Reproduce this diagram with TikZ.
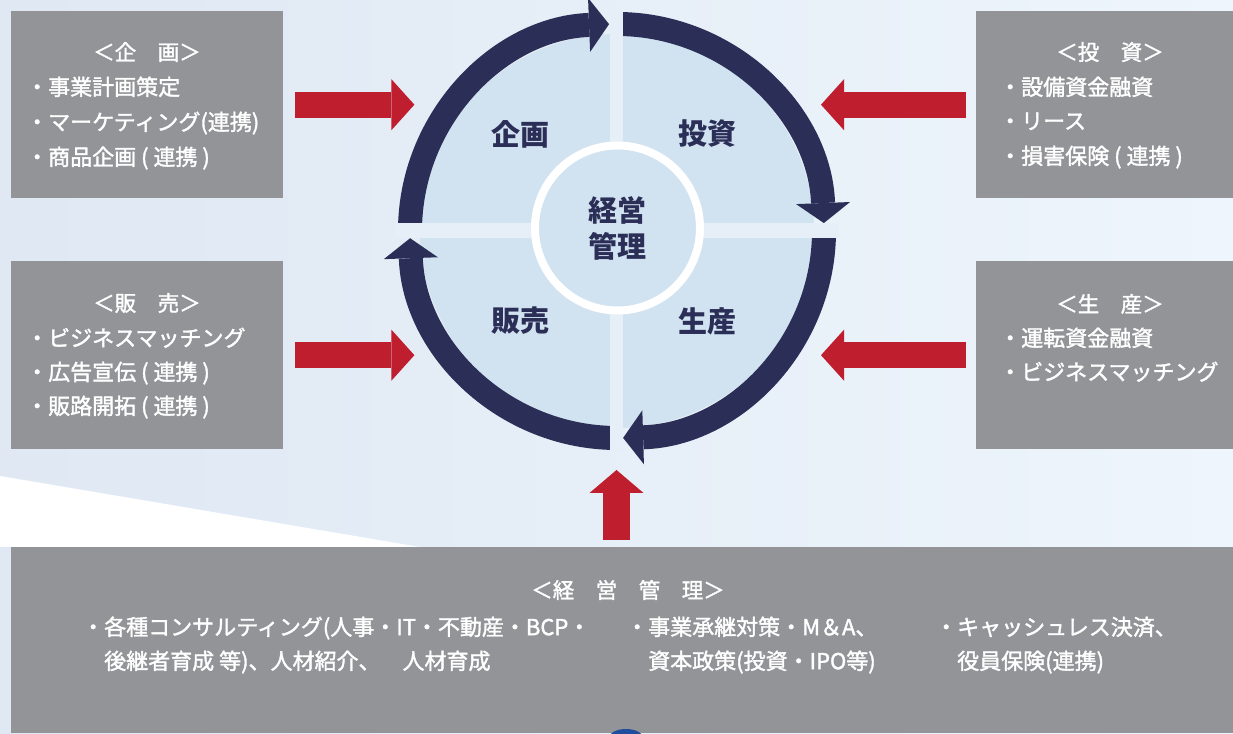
\documentclass[tikz,border=0pt]{standalone}
\usepackage{fontspec}
\setmainfont{Noto Sans CJK JP}
\newfontfamily\medfont[FakeBold=1.6]{Noto Sans CJK JP}
\usetikzlibrary{arrows.meta,calc}
\definecolor{boxgray}{HTML}{939498}
\definecolor{navy}{HTML}{2B2E56}
\definecolor{arrred}{HTML}{BE1E2D}
\definecolor{quadblue}{HTML}{D1E2F0}
\definecolor{gapblue}{HTML}{E6EEF7}
\definecolor{bgleft}{HTML}{DFE8F3}
\definecolor{bgright}{HTML}{EEF5FC}
\definecolor{domeblue}{HTML}{1F4E9E}
\tikzset{
  graybox/.style={fill=boxgray, draw=none, inner sep=0pt, anchor=north west},
  boxtext/.style={text=white, font=\medfont\fontsize{22}{26}\selectfont, inner sep=0pt, text height=19pt, text depth=2.6pt},
  headtext/.style={boxtext, font=\medfont\fontsize{21.5}{26}\selectfont, anchor=center},
  itemtext/.style={boxtext, anchor=west},
  quadlabel/.style={text=navy, font=\bfseries\fontsize{29}{35}\selectfont, inner sep=0pt},
  cyclearc/.style={draw=navy, line width=24pt, -{Triangle[width=54pt,length=20pt,line width=0pt]}},
  redarrow/.style={draw=arrred, line width=26pt, -{Triangle[width=51pt,length=23pt,line width=0pt]}},
}
\begin{document}
\begin{tikzpicture}[x=1pt,y=1pt]
\clip (0,0) rectangle (1233,733);
% background
\shade[left color=bgleft, right color=bgright] (0,0) rectangle (1233,733);
\fill[white] (0,257) -- (420,186) -- (0,186) -- cycle;

% boxes
\node[graybox, minimum width=272pt, minimum height=187pt] (kikaku) at (11,722) {};
\node[graybox, minimum width=272pt, minimum height=188pt] (hanbai) at (11,472) {};
\node[graybox, minimum width=257pt, minimum height=187pt] (toushi) at (976,722) {};
\node[graybox, minimum width=257pt, minimum height=188pt] (seisan) at (976,472) {};
\node[graybox, minimum width=1222pt, minimum height=186pt] (keiei) at (11,186) {};

% cycle
\coordinate (o) at (617,502);
\fill[quadblue] (o) circle (197pt);
\draw[cyclearc] (o) ++(180:207pt) arc[start angle=180, end angle=92.2, radius=207pt];
\draw[cyclearc] (o) ++(90:207pt) arc[start angle=90, end angle=2.2, radius=207pt];
\draw[cyclearc] (o) ++(0:207pt) arc[start angle=0, end angle=-88.3, radius=207pt];
\draw[cyclearc] (o) ++(270:207pt) arc[start angle=270, end angle=182, radius=207pt];
\fill[gapblue] (395,495) rectangle (839,510);
\fill[gapblue] (610,280) rectangle (623,724);
\node[circle, draw=white, line width=8pt, fill=quadblue, minimum size=165pt, inner sep=0pt,
      align=center, text=navy, font=\bfseries\fontsize{29}{36}\selectfont] (center) at (617.5,505) {経営\\管理};

\node[quadlabel] (qkikaku) at (520,599) {企画};
\node[quadlabel] (qtoushi) at (707,599) {投資};
\node[quadlabel] (qhanbai) at (520,412) {販売};
\node[quadlabel] (qseisan) at (707,412) {生産};

% red arrows
\draw[redarrow] ([xshift=12pt]kikaku.east) -- ([xshift=131pt]kikaku.east);
\draw[redarrow] ([xshift=12pt]hanbai.east) -- ([xshift=131pt]hanbai.east);
\draw[redarrow] ([xshift=-10pt]toushi.west) -- ([xshift=-155pt]toushi.west);
\draw[redarrow] ([xshift=-10pt]seisan.west) -- ([xshift=-155pt]seisan.west);
\coordinate (upstart) at (616.5,193);
\coordinate (upend) at (616.5,263);
\draw[draw=arrred, line width=27pt, -{Triangle[width=54pt,length=23pt,line width=0pt]}] (upstart) -- (upend);

% box texts: 企画
\node[headtext] (h1) at (147,681) {＜企　画＞};
\node[itemtext] (h1a) at (26,646) {・事業計画策定};
\node[itemtext] (h1b) at (26,611) {・マーケティング(連携)};
\node[itemtext] (h1c) at (26,576) {・商品企画 ( 連携 )};
% 投資
\node[headtext] (h2) at (1110,681) {＜投　資＞};
\node[itemtext] (h2a) at (999,646) {・設備資金融資};
\node[itemtext] (h2b) at (999,612) {・リース};
\node[itemtext] (h2c) at (999,577) {・損害保険 ( 連携 )};
% 販売
\node[headtext] (h3) at (147,430) {＜販　売＞};
\node[itemtext] (h3a) at (26,395) {・ビジネスマッチング};
\node[itemtext] (h3b) at (26,361) {・広告宣伝 ( 連携 )};
\node[itemtext] (h3c) at (26,327) {・販路開拓 ( 連携 )};
% 生産
\node[headtext] (h4) at (1110,429) {＜生　産＞};
\node[itemtext] (h4a) at (999,395) {・運転資金融資};
\node[itemtext] (h4b) at (999,361) {・ビジネスマッチング};
% 経営管理
\node[headtext] (h5) at (628,143) {＜経　営　管　理＞};
\node[itemtext] (h5a) at (82,106) {・各種コンサルティング(人事・IT・不動産・BCP・};
\node[itemtext] (h5b) at (104,72) {後継者育成 等)、人材紹介、　人材育成};
\node[itemtext] (h5c) at (626,106) {・事業承継対策・M＆A、};
\node[itemtext] (h5d) at (648,72) {資本政策(投資・IPO等)};
\node[itemtext] (h5e) at (935,106) {・キャッシュレス決済、};
\node[itemtext] (h5f) at (957,72) {役員保険(連携)};

% blue shape at bottom edge
\fill[domeblue] (626,-5) ellipse (17pt and 9pt);
\end{tikzpicture}
\end{document}
